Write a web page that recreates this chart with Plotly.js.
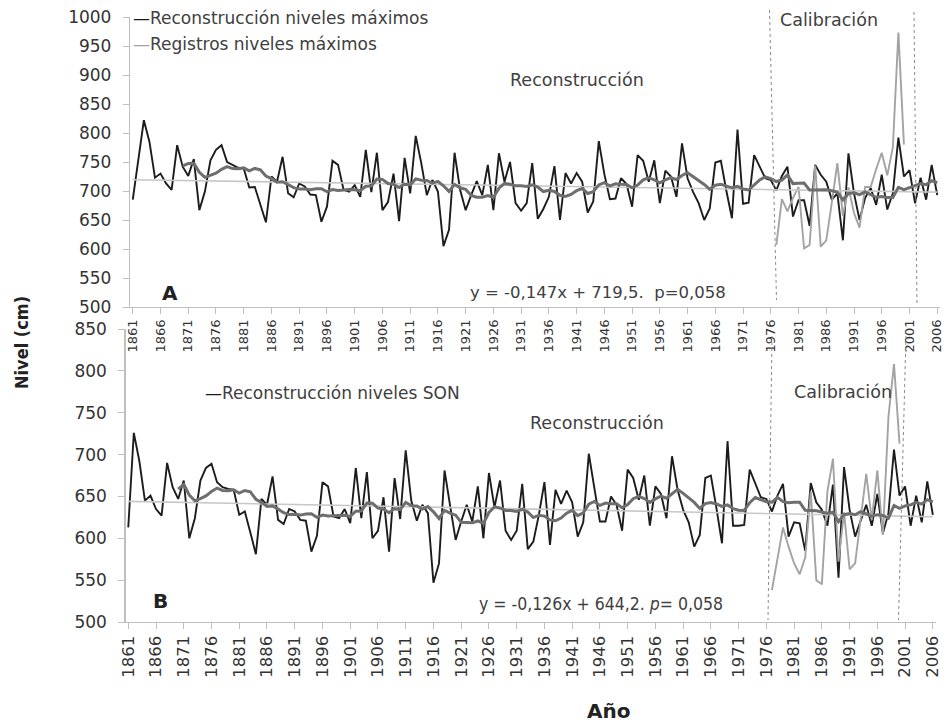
<!DOCTYPE html>
<html><head><meta charset="utf-8">
<script src="https://cdn.plot.ly/plotly-3.0.1.min.js"></script>
<style>html,body{margin:0;padding:0;background:#fff}#chart{width:946px;height:727px}</style>
</head><body><div id="chart"></div>
<script>
// ---------- data ----------
const firstYear = 1861;
const lastYear = 2006;
const tickYears = [1861,1866,1871,1876,1881,1886,1891,1896,1901,1906,1911,1916,1921,1926,1931,1936,1941,1946,1951,1956,1961,1966,1971,1976,1981,1986,1991,1996,2001,2006];

// Panel A: reconstrucción niveles máximos (1861-2006)
const reconMax = [
685,752,822,785,723,730,713,702,779,742,
726,755,667,699,753,771,779,750,745,740,
739,706,707,676,646,725,716,759,696,689,
713,708,694,693,647,673,752,745,702,699,
710,690,771,698,766,667,681,730,648,757,
696,795,748,693,719,699,605,633,766,702,
667,693,717,693,745,667,765,716,750,679,
666,679,748,652,669,690,743,650,731,713,
731,716,663,682,786,729,686,687,722,712,
673,762,752,716,753,679,735,725,690,782,
722,698,679,650,670,749,752,700,653,806,
678,680,762,742,722,719,701,726,742,656,
684,684,640,745,728,716,685,696,615,765,
696,650,688,705,676,728,668,696,792,725,
736,679,723,685,745,693];

// Panel A: registros niveles máximos (1977-2000)
const recordStartYear = 1977;
const recordsMax = [607,686,665,688,707,601,607,744,604,615,680,748,657,706,662,637,707,707,738,766,727,775,973,780];

// Panel B: reconstrucción niveles SON (1861-2006)
const reconSON = [
613,726,692,645,651,635,627,690,661,647,
669,600,624,669,684,689,667,661,659,658,
628,632,607,581,647,640,674,622,617,635,
632,622,621,584,603,667,662,626,624,635,
618,684,624,679,600,609,649,584,672,623,
705,645,621,640,630,547,570,681,639,598,
620,640,620,662,600,678,637,669,609,598,
609,665,587,596,628,667,592,658,641,657,
643,602,619,701,660,620,620,650,640,609,
682,672,646,675,615,662,653,624,698,658,
634,619,590,604,672,675,636,594,716,615,
615,616,682,666,649,647,632,651,665,602,
619,618,585,666,643,634,615,664,553,685,
634,602,621,640,615,653,606,630,706,651,
662,615,651,619,668,628];

// Panel B: registros SON (1977-2000)
const recordsSON = [538,575,613,590,570,557,577,656,550,545,656,695,572,631,563,570,622,677,622,681,604,745,808,713];

// Trend equations printed on the chart
const trendA = {slope: -0.147, intercept: 719.5};
const trendB = {slope: -0.126, intercept: 644.2};
const maPeriod = 10; // moving-average trendline period

// ---------- derived ----------
const years = [];
for (let y = firstYear; y <= lastYear; y++) years.push(y);
const recYears = recordsMax.map((_, i) => recordStartYear + i);

function movingAvg(vals) {
  const xs = [], ys = [];
  for (let i = maPeriod - 1; i < vals.length; i++) {
    let s = 0;
    for (let k = i - maPeriod + 1; k <= i; k++) s += vals[k];
    xs.push(years[i]); ys.push(s / maPeriod);
  }
  return {xs, ys};
}
function trend(t) { return years.map((_, i) => t.intercept + t.slope * (i + 1)); }

const maA = movingAvg(reconMax);
const maB = movingAvg(reconSON);

// ---------- styling ----------
const W = 946, H = 727;
const px = v => v / W, py = v => 1 - v / H;
const FONT = 'DejaVu Sans, sans-serif';
const COND = 'DejaVu Sans Condensed, DejaVu Sans, sans-serif';
const TXT = '#404040';
const AX = '#bfbfbf';

const blackLine = {color: '#1c1c1c', width: 1.9};
const grayLine = {color: '#a3a3a3', width: 1.9};
const maLine = {color: '#6e6e6e', width: 3};
const trLine = {color: '#c8c8c8', width: 1.6};

const traces = [
  {x: years, y: reconMax, xaxis: 'x', yaxis: 'y', mode: 'lines', line: blackLine},
  {x: recYears, y: recordsMax, xaxis: 'x', yaxis: 'y', mode: 'lines', line: grayLine},
  {x: years, y: trend(trendA), xaxis: 'x', yaxis: 'y', mode: 'lines', line: trLine},
  {x: maA.xs, y: maA.ys, xaxis: 'x', yaxis: 'y', mode: 'lines', line: maLine},
  {x: years, y: reconSON, xaxis: 'x2', yaxis: 'y2', mode: 'lines', line: blackLine},
  {x: recYears, y: recordsSON, xaxis: 'x2', yaxis: 'y2', mode: 'lines', line: grayLine},
  {x: years, y: trend(trendB), xaxis: 'x2', yaxis: 'y2', mode: 'lines', line: trLine},
  {x: maB.xs, y: maB.ys, xaxis: 'x2', yaxis: 'y2', mode: 'lines', line: maLine}
].map(t => Object.assign(t, {showlegend: false, hoverinfo: 'skip'}));

function xAxis(domain, anchor, fsize) {
  return {
    domain, anchor, range: [firstYear - 0.5, lastYear + 0.5],
    tickmode: 'array', tickvals: tickYears, ticktext: tickYears.map(String),
    tickangle: -90, ticks: 'outside', ticklen: 6, tickcolor: AX,
    ticklabeloverflow: 'allow',
    showline: true, linecolor: AX, linewidth: 1.2, showgrid: false, zeroline: false,
    tickfont: {family: FONT, size: fsize, color: '#333'}
  };
}
function yAxis(domain, anchor, range) {
  return {
    domain, anchor, range, dtick: 50, tick0: 500,
    ticks: 'outside', ticklen: 6, tickcolor: AX, ticklabelstandoff: 8,
    showline: true, linecolor: AX, linewidth: 1.2, showgrid: false, zeroline: false,
    tickfont: {family: FONT, size: 17, color: '#333'}
  };
}

function ann(text, x, y, opts) {
  return Object.assign({text, x: px(x), y: py(y), xref: 'paper', yref: 'paper',
    showarrow: false, xanchor: 'center', yanchor: 'middle',
    font: {family: FONT, size: 17, color: TXT}}, opts || {});
}

const annotations = [
  ann('<span style="color:#1c1c1c">—</span>Reconstrucción niveles máximos', 131, 18, {xanchor: 'left', font: {family: FONT, size: 17, color: TXT}}),
  ann('<span style="color:#a3a3a3">—</span>Registros niveles máximos', 131, 44, {xanchor: 'left', font: {family: FONT, size: 17, color: TXT}}),
  ann('Reconstrucción', 577, 80, {font: {family: FONT, size: 17.5, color: TXT}}),
  ann('Calibración', 829, 20, {font: {family: FONT, size: 17.5, color: TXT}}),
  ann('<b>A</b>', 170, 293, {font: {family: FONT, size: 20, color: '#222'}}),
  ann('y = -0,147x + 719,5.  p=0,058', 598, 292, {font: {family: FONT, size: 16.5, color: TXT}}),
  ann('<span style="color:#1c1c1c">—</span>Reconstrucción niveles SON', 203, 393, {xanchor: 'left', font: {family: FONT, size: 17, color: TXT}}),
  ann('Reconstrucción', 597, 423, {font: {family: FONT, size: 17.5, color: TXT}}),
  ann('Calibración', 843, 392, {font: {family: FONT, size: 17.5, color: TXT}}),
  ann('<b>B</b>', 160, 601, {font: {family: FONT, size: 20, color: '#222'}}),
  ann('y = -0,126x + 644,2. <i>p</i>= 0,058', 601, 604, {font: {family: COND, size: 17.5, color: TXT}}),
  ann('<b>Nivel (cm)</b>', 22, 343, {textangle: -90, font: {family: COND, size: 18, color: '#222'}}),
  ann('<b>Año</b>', 608, 711, {font: {family: FONT, size: 20, color: '#222'}})
];

function vline(x0, y0, x1, y1) {
  return {type: 'line', xref: 'paper', yref: 'paper', x0: px(x0), y0: py(y0), x1: px(x1), y1: py(y1),
    line: {color: '#8a8a8a', width: 1, dash: 'dot'}};
}
const shapes = [
  vline(769.5, 10, 776.5, 300),
  vline(914, 12, 917, 305),
  vline(772, 336, 768, 620),
  vline(906, 336, 898.5, 620)
];

const layout = {
  width: W, height: H,
  margin: {l: 0, r: 0, t: 0, b: 0},
  paper_bgcolor: '#fff', plot_bgcolor: 'rgba(0,0,0,0)',
  xaxis: xAxis([px(130), px(940)], 'y', 13),
  yaxis: yAxis([py(307), py(17)], 'x', [500, 1000]),
  xaxis2: xAxis([px(125.5), px(935.6)], 'y2', 16.5),
  yaxis2: yAxis([py(622), py(329)], 'x2', [500, 850]),
  annotations, shapes, showlegend: false
};

Plotly.newPlot('chart', traces, layout, {staticPlot: true, displayModeBar: false});
</script></body></html>
